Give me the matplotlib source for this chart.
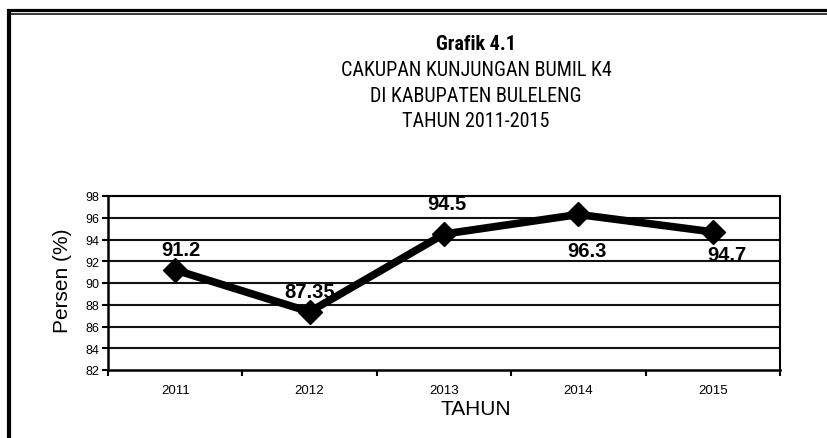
import matplotlib
matplotlib.use("Agg")
import matplotlib.pyplot as plt
from matplotlib import font_manager as fm
from matplotlib.lines import Line2D

# ---- data ----
years = ["2011", "2012", "2013", "2014", "2015"]
values = [91.2, 87.35, 94.5, 96.3, 94.7]
value_labels = ["91.2", "87.35", "94.5", "96.3", "94.7"]
yticks = [82, 84, 86, 88, 90, 92, 94, 96, 98]
title_lines = ["Grafik 4.1", "CAKUPAN KUNJUNGAN BUMIL K4",
               "DI KABUPATEN BULELENG", "TAHUN 2011-2015"]
xlabel = "TAHUN"
ylabel = "Persen (%)"

plt.rcParams['font.family'] = ['Liberation Sans', 'DejaVu Sans']

names = {f.name for f in fm.fontManager.ttflist}
narrow = None
for cand in ['Liberation Sans Narrow', 'Arial Narrow', 'Roboto Condensed',
             'Open Sans Condensed', 'Noto Sans Condensed']:
    if cand in names:
        narrow = cand
        break

W, H = 827, 439
fig = plt.figure(figsize=(W / 100, H / 100), dpi=100)

def fx(px):
    return px / W

def fy(py):
    return 1 - py / H

# frame lines (figure border)
fig.add_artist(Line2D([fx(7), fx(827)], [fy(11), fy(11)], color='black', lw=2.3,
                      transform=fig.transFigure, solid_capstyle='butt'))
fig.add_artist(Line2D([fx(11), fx(827)], [fy(14.5), fy(14.5)], color='black', lw=1.1,
                      transform=fig.transFigure, solid_capstyle='butt'))
fig.add_artist(Line2D([fx(9), fx(9)], [fy(10), fy(439)], color='black', lw=3.0,
                      transform=fig.transFigure, solid_capstyle='butt'))

# titles
tx = fx(476)
ty = [45, 70.5, 96, 121.5]
if narrow:
    tsize = 14.5
    tfam = [narrow, 'DejaVu Sans']
else:
    tsize = 12
    tfam = ['Liberation Sans', 'DejaVu Sans']
for i, (line, y) in enumerate(zip(title_lines, ty)):
    fig.text(tx, fy(y), line, ha='center', va='center', fontsize=tsize,
             family=tfam, fontweight='bold' if i == 0 else 'normal')

ax = fig.add_axes([fx(108), fy(371), fx(780) - fx(108), fy(197) - fy(371)])
x = list(range(len(years)))
ax.plot(x, values, color='black', lw=5.5, marker='D', markersize=12,
        markerfacecolor='black', markeredgecolor='black', zorder=3)

ax.set_xlim(-0.5, len(years) - 0.5)
ax.set_ylim(82, 98)
ax.set_yticks(yticks)
ax.set_yticklabels([str(v) for v in yticks], fontsize=9)
for v in yticks[1:]:
    ax.axhline(v, color='#111111', lw=1.5, zorder=1)

ax.set_xticks([i - 0.5 for i in range(len(years) + 1)])
ax.set_xticklabels([])
ax.set_xticks(x, minor=True)
ax.set_xticklabels(years, minor=True, fontsize=9.5)
ax.tick_params(axis='x', which='minor', length=0, pad=10)
ax.tick_params(axis='x', which='major', length=4, width=1.5, direction='out')
ax.tick_params(axis='y', length=4, width=1.5, direction='out', pad=2)

for side in ['left', 'bottom']:
    ax.spines[side].set_linewidth(1.8)
ax.spines['right'].set_linewidth(1.5)
ax.spines['top'].set_linewidth(1.5)

offsets = [(6, 20), (0, 20), (3, 31), (9, -36), (14, -23)]
for xi, v, lab, (dx, dy) in zip(x, values, value_labels, offsets):
    ax.annotate(lab, (xi, v), xytext=(dx, dy), textcoords='offset pixels',
                ha='center', va='center', fontsize=14.5, fontweight='bold',
                zorder=4)

fig.text(fx(476), fy(410), xlabel, ha='center', va='center', fontsize=15)
fig.text(fx(63), fy(281), ylabel, ha='center', va='center', fontsize=15,
         rotation=90)

fig.savefig('out.png', dpi=100)
